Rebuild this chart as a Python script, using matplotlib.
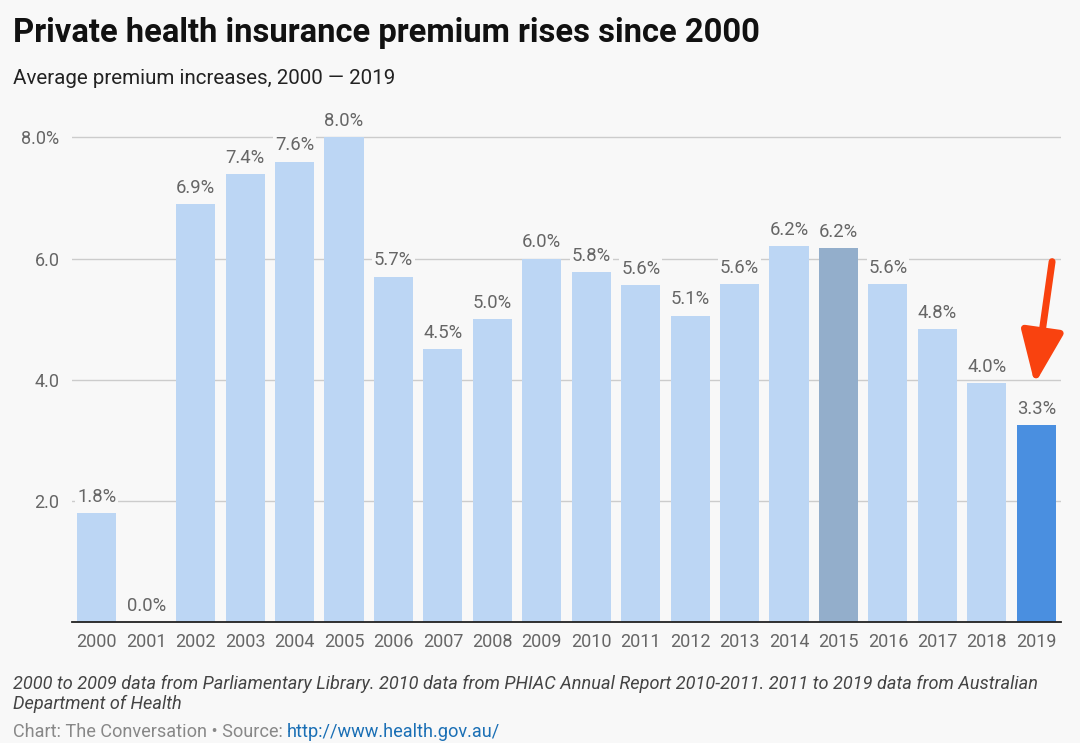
import matplotlib
matplotlib.use("Agg")
from matplotlib import pyplot as plt
import numpy as np

plt.rcParams['font.family'] = ['Roboto', 'DejaVu Sans']

# data
years = [str(y) for y in range(2000, 2020)]
rises = [1.8, 0.0, 6.9, 7.4, 7.6, 8.0, 5.7, 4.5, 5.0, 6.0,
         5.78, 5.56, 5.06, 5.58, 6.2, 6.17, 5.58, 4.84, 3.94, 3.25]
labels = ['1.8%', '0.0%', '6.9%', '7.4%', '7.6%', '8.0%', '5.7%', '4.5%', '5.0%', '6.0%',
          '5.8%', '5.6%', '5.1%', '5.6%', '6.2%', '6.2%', '5.6%', '4.8%', '4.0%', '3.3%']
yticks = [2, 4, 6, 8]
ytick_labels = ['2.0', '4.0', '6.0', '8.0%']

bg = '#f8f8f8'
light = '#bcd6f4'
colors = [light] * len(years)
colors[years.index('2015')] = '#93aecb'
colors[years.index('2019')] = '#4a8fe0'

fig = plt.figure(figsize=(10.8, 7.43), dpi=100, facecolor=bg)
ax = fig.add_axes([0.0667, 0.163, 0.9157, 0.687], facecolor=bg)

x = np.arange(len(years))
ax.bar(x, rises, width=0.79, color=colors, zorder=2)

for xi, v, lab in zip(x, rises, labels):
    ax.text(xi, v + 0.12, lab, ha='center', va='bottom', fontsize=13.3, color='#666666', zorder=3,
            bbox=dict(boxstyle='square,pad=0.1', fc=bg, ec='none'))

ax.set_xlim(-0.5, len(years) - 0.5)
ax.set_ylim(0, 8.43)
ax.set_yticks(yticks)
ax.set_yticklabels(ytick_labels)
ax.set_xticks(x)
ax.set_xticklabels(years)
ax.tick_params(axis='both', length=0, labelsize=13, labelcolor='#666666')
ax.tick_params(axis='y', pad=9)
ax.tick_params(axis='x', pad=8)
ax.grid(axis='y', color='#cccccc', linewidth=1, zorder=0)
for s in ['top', 'right', 'left']:
    ax.spines[s].set_visible(False)
ax.spines['bottom'].set_color('#222222')
ax.spines['bottom'].set_linewidth(1.3)
ax.spines['bottom'].set_zorder(4)

# red arrow pointing at 2019
ax.annotate('', xy=(18.97, 3.93), xytext=(19.32, 5.95),
            arrowprops=dict(arrowstyle='-|>,head_length=3.2,head_width=1.3',
                            color='#f9420f', lw=5, shrinkA=0, shrinkB=0), zorder=5)

fig.text(0.012, 0.955, 'Private health insurance premium rises since 2000',
         fontsize=23.6, fontweight='bold', color='#111111', va='center')
fig.text(0.012, 0.895, 'Average premium increases, 2000 \u2014 2019',
         fontsize=14.8, color='#222222', va='center')
fig.text(0.012, 0.079, '2000 to 2009 data from Parliamentary Library. 2010 data from PHIAC Annual Report 2010-2011. 2011 to 2019 data from Australian',
         fontsize=13.1, style='italic', color='#444444', va='center')
fig.text(0.012, 0.052, 'Department of Health',
         fontsize=13.1, style='italic', color='#444444', va='center')
t = fig.text(0.012, 0.015, 'Chart: The Conversation \u2022 Source: ',
             fontsize=13.1, color='#888888', va='center')
fig.canvas.draw()
bb = t.get_window_extent()
fig.text(bb.x1 / fig.bbox.width, 0.015, 'http://www.health.gov.au/',
         fontsize=13.1, color='#1a6fb5', va='center')

fig.savefig('out.png', dpi=100, facecolor=bg)
